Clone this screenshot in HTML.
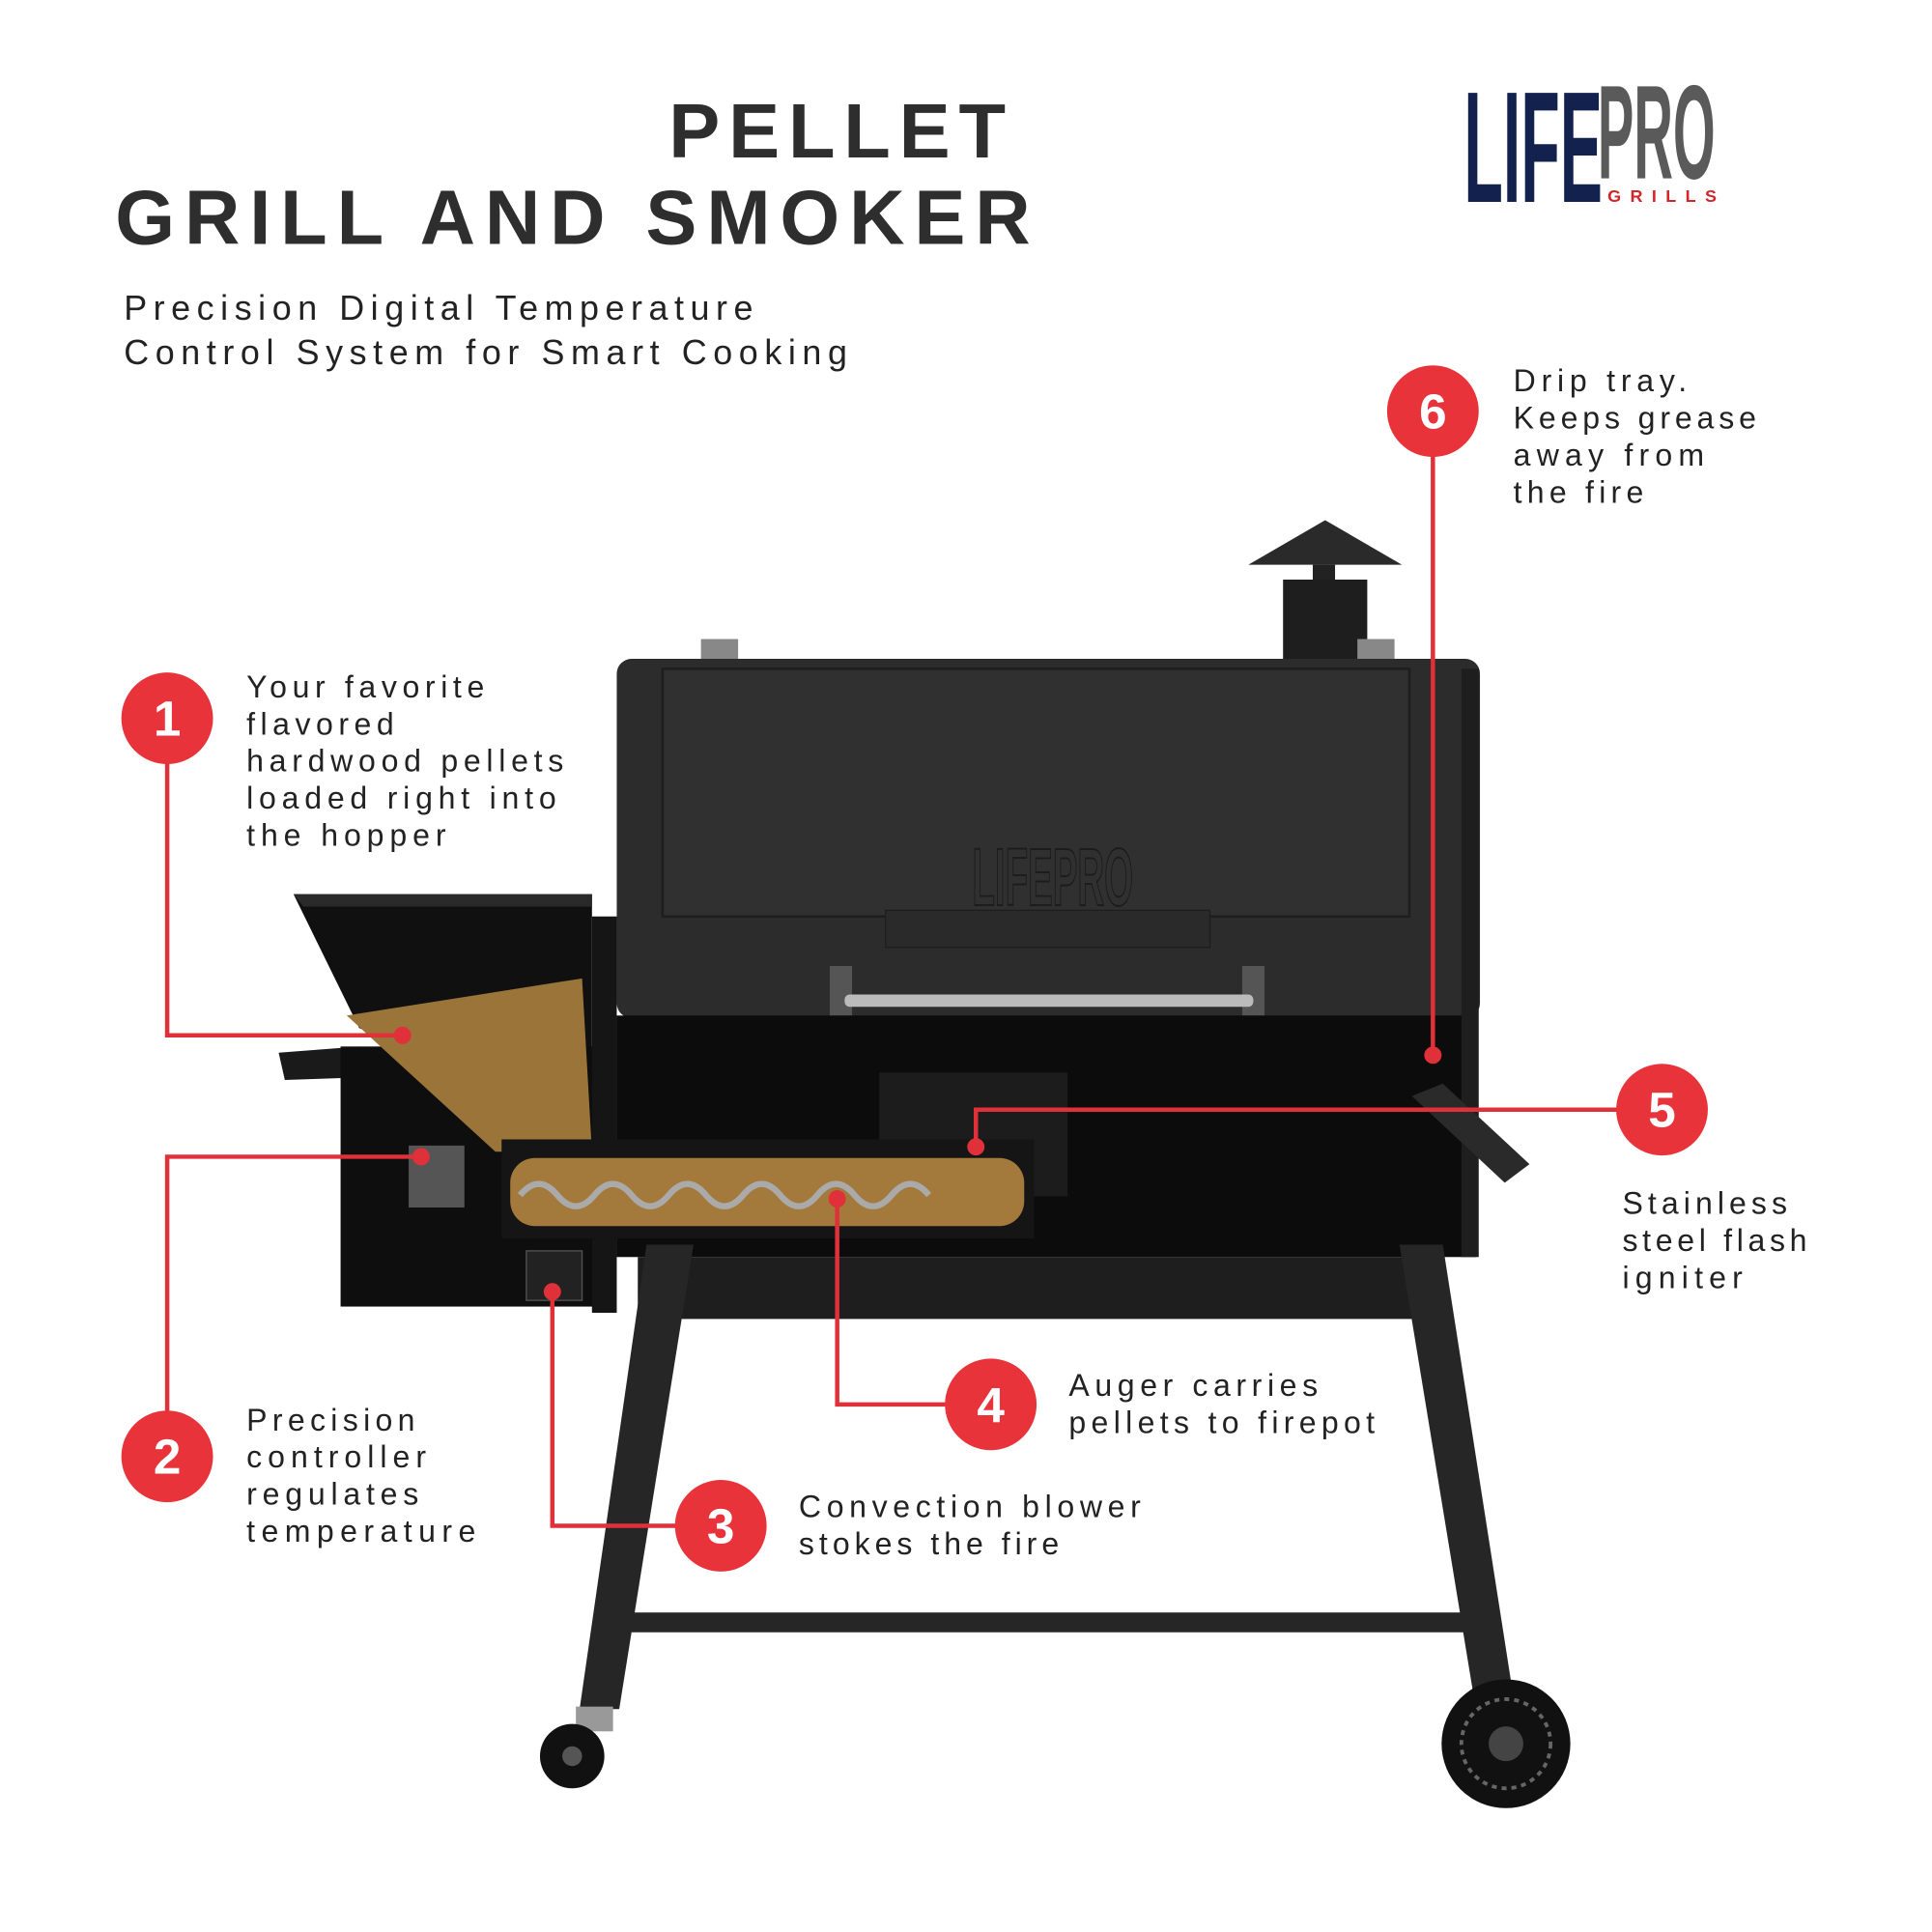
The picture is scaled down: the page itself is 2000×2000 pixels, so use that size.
<!DOCTYPE html>
<html><head><meta charset="utf-8"><style>
html,body{margin:0;padding:0;background:#fff;}
svg{display:block}
text{font-family:"Liberation Sans","DejaVu Sans",sans-serif;}
</style></head><body>
<svg width="2000" height="2000" viewBox="0 0 1560 1560" xmlns="http://www.w3.org/2000/svg">
<rect width="1560" height="1560" fill="#fff"/>
<!-- Title -->
<g fill="#2e2e2e" font-weight="bold">
<text x="540" y="127" font-size="62" textLength="272" lengthAdjust="spacing">PELLET</text>
<text x="93" y="197" font-size="62" textLength="739" lengthAdjust="spacing">GRILL AND SMOKER</text>
</g>
<g fill="#222" font-size="28">
<text x="100" y="258" textLength="508" lengthAdjust="spacing">Precision Digital Temperature</text>
<text x="100" y="294" textLength="584" lengthAdjust="spacing">Control System for Smart Cooking</text>
</g>
<!-- Logo -->
<g>
<text x="1182" y="163" font-size="128" font-weight="bold" fill="#13214f" textLength="112" lengthAdjust="spacingAndGlyphs">LIFE</text>
<text x="1290" y="144" font-size="108" font-weight="bold" fill="#5a5a5a" textLength="95" lengthAdjust="spacingAndGlyphs">PRO</text>
<text x="1298" y="163" font-size="14" font-weight="bold" fill="#d0262c" textLength="88" lengthAdjust="spacing">GRILLS</text>
</g>
<!-- Chimney -->
<polygon points="1008,456 1070,420 1132,456" fill="#2a2a2a"/>
<rect x="1060" y="456" width="18" height="14" fill="#222"/>
<rect x="1036" y="468" width="68" height="66" fill="#1e1e1e"/>
<rect x="566" y="516" width="30" height="18" fill="#888"/>
<rect x="1096" y="516" width="30" height="18" fill="#888"/>
<!-- Lid -->
<rect x="498" y="532" width="697" height="290" rx="12" fill="#2c2c2c"/>
<rect x="535" y="540" width="603" height="200" fill="#303030" stroke="#1e1e1e" stroke-width="2"/>
<rect x="715" y="735" width="262" height="30" fill="#2a2a2a" stroke="#1e1e1e"/>
<text x="785" y="731" font-size="66" font-weight="bold" fill="none" stroke="#1c1c1c" stroke-width="1.5" textLength="130" lengthAdjust="spacingAndGlyphs">LIFEPRO</text>
<rect x="670" y="780" width="18" height="40" fill="#555"/>
<rect x="1003" y="780" width="18" height="40" fill="#555"/>
<rect x="682" y="803" width="330" height="10" rx="4" fill="#bbb"/>
<!-- Body -->
<rect x="498" y="820" width="694" height="195" fill="#0c0c0c"/>
<rect x="1180" y="540" width="14" height="475" fill="#1e1e1e"/>
<rect x="710" y="866" width="152" height="100" fill="#1c1c1c"/>
<polygon points="1140,885 1165,875 1235,940 1215,955" fill="#2a2a2a"/>
<!-- Hopper -->
<polygon points="237,722 478,722 478,920 290,830" fill="#101010"/>
<polygon points="237,722 478,722 478,732 245,732" fill="#2a2a2a"/>
<polygon points="225,850 290,845 290,870 230,872" fill="#1a1a1a"/>
<rect x="275" y="845" width="222" height="210" fill="#0e0e0e"/>
<rect x="478" y="740" width="20" height="320" fill="#151515"/>
<polygon points="280,820 470,790 478,930 400,930" fill="#9a7438"/>
<!-- Auger tube -->
<rect x="405" y="920" width="430" height="80" fill="#151515"/>
<rect x="412" y="935" width="415" height="55" rx="20" fill="#a47a3c"/>
<path d="M420,965 q15,-18 30,0 t30,0 t30,0 t30,0 t30,0 t30,0 t30,0 t30,0 t30,0 t30,0 t30,0" fill="none" stroke="#aaa" stroke-width="5"/>
<rect x="330" y="925" width="45" height="50" fill="#555"/>
<rect x="425" y="1010" width="45" height="40" fill="#222" stroke="#555"/>
<!-- Legs/cart -->
<rect x="515" y="1015" width="650" height="50" fill="#1e1e1e"/>
<polygon points="522,1005 560,1005 500,1380 468,1380" fill="#262626"/>
<polygon points="1130,1005 1165,1005 1222,1370 1190,1370" fill="#262626"/>
<rect x="505" y="1302" width="682" height="16" fill="#262626"/>
<rect x="465" y="1378" width="30" height="20" fill="#999"/>
<circle cx="462" cy="1418" r="26" fill="#111"/>
<circle cx="462" cy="1418" r="8" fill="#555"/>
<circle cx="1216" cy="1408" r="52" fill="#111"/>
<circle cx="1216" cy="1408" r="36" fill="none" stroke="#666" stroke-width="3" stroke-dasharray="4 4"/>
<circle cx="1216" cy="1408" r="14" fill="#444"/>
<!-- Connectors -->
<g fill="none" stroke="#e0313a" stroke-width="3.5">
<polyline points="135,616 135,836 325,836"/>
<polyline points="135,1140 135,934 340,934"/>
<polyline points="546,1232 446,1232 446,1043"/>
<polyline points="764,1134 676,1134 676,968"/>
<polyline points="1306,896 788,896 788,926"/>
<polyline points="1157,368 1157,852"/>
</g>
<g fill="#e0313a">
<circle cx="325" cy="836" r="7"/><circle cx="340" cy="934" r="7"/><circle cx="446" cy="1043" r="7"/>
<circle cx="676" cy="968" r="7"/><circle cx="788" cy="926" r="7"/><circle cx="1157" cy="852" r="7"/>
</g>
<g fill="#e8333a">
<circle cx="135" cy="580" r="37"/><circle cx="135" cy="1176" r="37"/><circle cx="582" cy="1232" r="37"/>
<circle cx="800" cy="1134" r="37"/><circle cx="1342" cy="896" r="37"/><circle cx="1157" cy="332" r="37"/>
</g>
<g fill="#fff" font-size="40" font-weight="bold" text-anchor="middle">
<text x="135" y="594">1</text><text x="135" y="1190">2</text><text x="582" y="1246">3</text>
<text x="800" y="1148">4</text><text x="1342" y="910">5</text><text x="1157" y="346">6</text>
</g>
<!-- Labels -->
<g fill="#222" font-size="25">
<text x="199" y="563" textLength="192" lengthAdjust="spacing">Your favorite</text>
<text x="199" y="593" textLength="119" lengthAdjust="spacing">flavored</text>
<text x="199" y="623" textLength="256" lengthAdjust="spacing">hardwood pellets</text>
<text x="199" y="653" textLength="250" lengthAdjust="spacing">loaded right into</text>
<text x="199" y="683" textLength="161" lengthAdjust="spacing">the hopper</text>
<text x="199" y="1155" textLength="136" lengthAdjust="spacing">Precision</text>
<text x="199" y="1185" textLength="145" lengthAdjust="spacing">controller</text>
<text x="199" y="1215" textLength="139" lengthAdjust="spacing">regulates</text>
<text x="199" y="1245" textLength="185" lengthAdjust="spacing">temperature</text>
<text x="645" y="1225" textLength="276" lengthAdjust="spacing">Convection blower</text>
<text x="645" y="1255" textLength="210" lengthAdjust="spacing">stokes the fire</text>
<text x="863" y="1127" textLength="201" lengthAdjust="spacing">Auger carries</text>
<text x="863" y="1157" textLength="247" lengthAdjust="spacing">pellets to firepot</text>
<text x="1310" y="980" textLength="133" lengthAdjust="spacing">Stainless</text>
<text x="1310" y="1010" textLength="149" lengthAdjust="spacing">steel flash</text>
<text x="1310" y="1040" textLength="97" lengthAdjust="spacing">igniter</text>
<text x="1222" y="316" textLength="140" lengthAdjust="spacing">Drip tray.</text>
<text x="1222" y="346" textLength="196" lengthAdjust="spacing">Keeps grease</text>
<text x="1222" y="376" textLength="154" lengthAdjust="spacing">away from</text>
<text x="1222" y="406" textLength="105" lengthAdjust="spacing">the fire</text>
</g>
</svg>
</body></html>
